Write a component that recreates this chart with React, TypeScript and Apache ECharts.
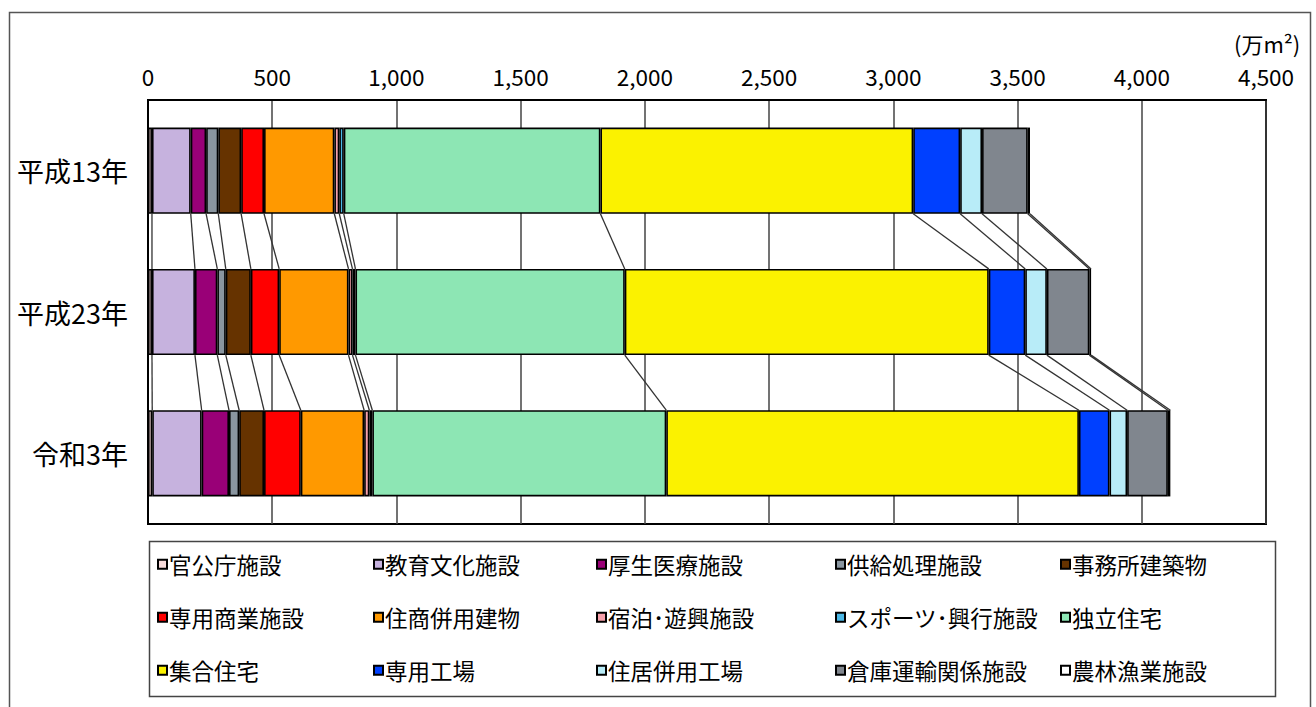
import React, { useEffect, useRef } from "react";
import * as echarts from "echarts";

const categories = ["平成13年", "平成23年", "令和3年"];
const xTicks = [0, 500, 1000, 1500, 2000, 2500, 3000, 3500, 4000, 4500];
const unitLabel = "(万m²)";

const seriesNames = [
  "官公庁施設",
  "教育文化施設",
  "厚生医療施設",
  "供給処理施設",
  "事務所建築物",
  "専用商業施設",
  "住商併用建物",
  "宿泊･遊興施設",
  "スポーツ･興行施設",
  "独立住宅",
  "集合住宅",
  "専用工場",
  "住居併用工場",
  "倉庫運輸関係施設",
  "農林漁業施設",
];

const seriesColors = [
  "#f9dcdc",
  "#c6b2de",
  "#990077",
  "#8a96a0",
  "#663300",
  "#ff0000",
  "#ff9900",
  "#f7a0aa",
  "#4cb8e6",
  "#8de6b4",
  "#fbf200",
  "#0040ff",
  "#b8ecf8",
  "#80868e",
  "#ffffff",
];

// values per series: [平成13年, 平成23年, 令和3年] (万m²)
const kanchosha = [16, 16, 17];
const kyoikuBunka = [156, 173, 199];
const koseiIryo = [62, 90, 110];
const kyokyuShori = [49, 34, 41];
const jimusho = [92, 101, 100];
const senyoShogyo = [92, 114, 148];
const jushoHeiyo = [283, 279, 255];
const shukuhaku = [20, 16, 21];
const sports = [18, 12, 12];
const dokuritsuJutaku = [1033, 1084, 1183];
const shugoJutaku = [1259, 1465, 1661];
const senyoKojo = [189, 147, 123];
const jukyoHeiyoKojo = [88, 87, 71];
const soko = [184, 171, 164];
const norin = [9, 7, 10];

const seriesValues = [
  kanchosha,
  kyoikuBunka,
  koseiIryo,
  kyokyuShori,
  jimusho,
  senyoShogyo,
  jushoHeiyo,
  shukuhaku,
  sports,
  dokuritsuJutaku,
  shugoJutaku,
  senyoKojo,
  jukyoHeiyoKojo,
  soko,
  norin,
];

const legendCols = [157, 373, 596, 835, 1060];
const legendRows = [567, 620, 673];

const JP = "'Noto Sans CJK JP', 'Noto Sans', sans-serif";
const BAR_FRAC = 0.61;

export default function App() {
  const ref = useRef<HTMLDivElement>(null);

  useEffect(() => {
    if (!ref.current) return;
    const chart = echarts.init(ref.current, undefined, { renderer: "svg" });

    // cumulative boundaries per category
    const cum: number[][] = categories.map((_, ci) => {
      let s = 0;
      return seriesValues.map((vals) => {
        s += vals[ci];
        return s;
      });
    });
    const connectorData: number[][] = [];
    for (let ci = 0; ci < categories.length - 1; ci++) {
      for (let si = 0; si < seriesNames.length; si++) {
        connectorData.push([cum[ci][si], cum[ci + 1][si], ci]);
      }
    }

    const barSeries = seriesNames.map((name, i) => ({
      name,
      type: "bar",
      stack: "total",
      barWidth: BAR_FRAC * 100 + "%",
      data: seriesValues[i],
      itemStyle: { color: seriesColors[i], borderColor: "#000", borderWidth: 1.6 },
      emphasis: { disabled: true },
      z: 3,
    }));

    const legends = seriesNames.map((name, i) => ({
      data: [{ name, icon: "rect" }],
      left: legendCols[i % 5],
      top: legendRows[Math.floor(i / 5)] - 14,
      padding: 0,
      itemWidth: 9,
      itemHeight: 9,
      itemGap: 0,
      selectedMode: false,
      itemStyle: { borderColor: "#000", borderWidth: 2 },
      textStyle: { fontSize: 22.5, fontFamily: JP, color: "#000", padding: [0, 0, 0, -3] },
    }));

    chart.setOption({
      animation: false,
      backgroundColor: "#fff",
      grid: {
        left: 148,
        width: 1118,
        top: 100,
        height: 424,
        show: true,
        borderColor: "#000",
        borderWidth: 2,
        backgroundColor: "transparent",
      },
      legend: legends,
      xAxis: {
        type: "value",
        position: "top",
        min: 0,
        max: 4500,
        interval: 500,
        axisLine: { show: true, lineStyle: { color: "#000", width: 2 } },
        axisTick: { show: false },
        splitLine: { show: true, lineStyle: { color: "#444", width: 1.5 } },
        axisLabel: {
          fontSize: 22.5,
          fontFamily: JP,
          color: "#000",
          margin: 13,
          formatter: (v: number) =>
            xTicks.includes(v) ? v.toLocaleString("en-US") : "",
        },
      },
      yAxis: {
        type: "category",
        inverse: true,
        data: categories,
        axisLine: { show: true, lineStyle: { color: "#000", width: 2 } },
        axisTick: { show: false },
        axisLabel: { fontSize: 27, fontFamily: JP, color: "#000", margin: 20 },
      },
      series: [
        ...barSeries,
        {
          type: "custom",
          name: "connectors",
          silent: true,
          z: 2,
          data: connectorData,
          encode: { x: [0, 1], y: 2 },
          renderItem: (params: any, api: any) => {
            const k = api.value(2);
            const p1 = api.coord([api.value(0), k]);
            const p2 = api.coord([api.value(1), k + 1]);
            const band = api.size([0, 1])[1];
            const half = (band * BAR_FRAC) / 2;
            return {
              type: "line",
              shape: { x1: p1[0], y1: p1[1] + half, x2: p2[0], y2: p2[1] - half },
              style: { stroke: "#333", lineWidth: 1.3 },
            };
          },
        },
      ],
      graphic: [
        {
          type: "rect",
          shape: { x: 9.5, y: 12.5, width: 1301, height: 720 },
          style: { fill: "none", stroke: "#555", lineWidth: 1.5 },
          silent: true,
        },
        {
          type: "rect",
          shape: { x: 149.5, y: 541.5, width: 1126, height: 155 },
          style: { fill: "none", stroke: "#444", lineWidth: 1.5 },
          silent: true,
        },
        {
          type: "text",
          x: 1234,
          y: 32,
          style: { text: unitLabel, fontSize: 22, fontFamily: JP, fill: "#000" },
          silent: true,
        },
      ],
    });

    return () => chart.dispose();
  }, []);

  return (
    <div
      ref={ref}
      style={{ position: "absolute", left: 0, top: 0, width: 1316, height: 707 }}
    />
  );
}
